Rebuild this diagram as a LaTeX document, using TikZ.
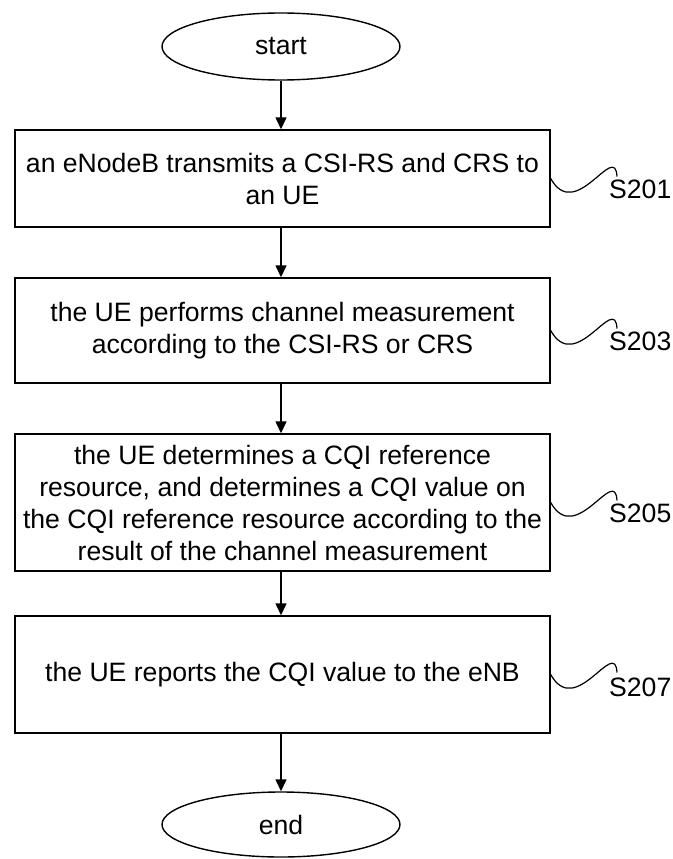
\documentclass[tikz,border=0pt]{standalone}
\usepackage{fontspec}
\setmainfont{Liberation Sans}
\usetikzlibrary{arrows.meta,shapes.geometric}
\begin{document}
\begin{tikzpicture}[x=1pt,y=-1pt,
  every node/.style={font=\fontsize{26.6}{32}\selectfont},
  flowbox/.style={draw, line width=1.4pt, rectangle, minimum width=535pt, align=center, inner sep=0pt},
  terminal/.style={draw, ellipse, line width=1.4pt, minimum width=238pt, inner sep=0pt},
  flow/.style={line width=1.4pt, -{Triangle[width=11pt,length=12pt]}},
  tag/.style={anchor=west, inner sep=0pt},
  squiggle/.style={line width=1.2pt}]
\useasboundingbox (0,0) rectangle (672,859);

% terminals
\node[terminal, minimum height=67pt] (start) at (281,46.5) {start};
\node[terminal, minimum height=65pt] (end) at (281,824.5) {end};

% process steps
\node[flowbox, minimum height=97pt] (b1) at (282.5,178.5)
  {an eNodeB transmits a CSI-RS and CRS to\\an UE};
\node[flowbox, minimum height=105pt] (b2) at (282.5,330.5)
  {the UE performs channel measurement\\according to the CSI-RS or CRS};
\node[flowbox, minimum height=137pt] (b3) at (282.5,502.5)
  {the UE determines a CQI reference\\resource, and determines a CQI value on\\the CQI reference resource according to the\\result of the channel measurement};
\node[flowbox, minimum height=117pt] (b4) at (282.5,674.5)
  {the UE reports the CQI value to the eNB};

% flow arrows
\draw[flow] (start.south) -- (start.south |- b1.north);
\draw[flow] (start.south |- b1.south) -- (start.south |- b2.north);
\draw[flow] (start.south |- b2.south) -- (start.south |- b3.north);
\draw[flow] (start.south |- b3.south) -- (start.south |- b4.north);
\draw[flow] (start.south |- b4.south) -- (end.north);

% step labels with leader squiggles
\node[tag] (s1) at (609,189) {S201};
\node[tag] (s2) at (609,341) {S203};
\node[tag] (s3) at (609,513) {S205};
\node[tag] (s4) at (609,687) {S207};
\coordinate (t1) at (617,176.5);
\coordinate (t2) at (617,328.5);
\coordinate (t3) at (617,500.5);
\coordinate (t4) at (617,672.5);
\draw[squiggle] (b1.east) .. controls +(25,45) and +(-2,-36) .. (t1);
\draw[squiggle] (b2.east) .. controls +(25,45) and +(-2,-36) .. (t2);
\draw[squiggle] (b3.east) .. controls +(25,45) and +(-2,-36) .. (t3);
\draw[squiggle] (b4.east) .. controls +(25,45) and +(-2,-36) .. (t4);
\end{tikzpicture}
\end{document}
